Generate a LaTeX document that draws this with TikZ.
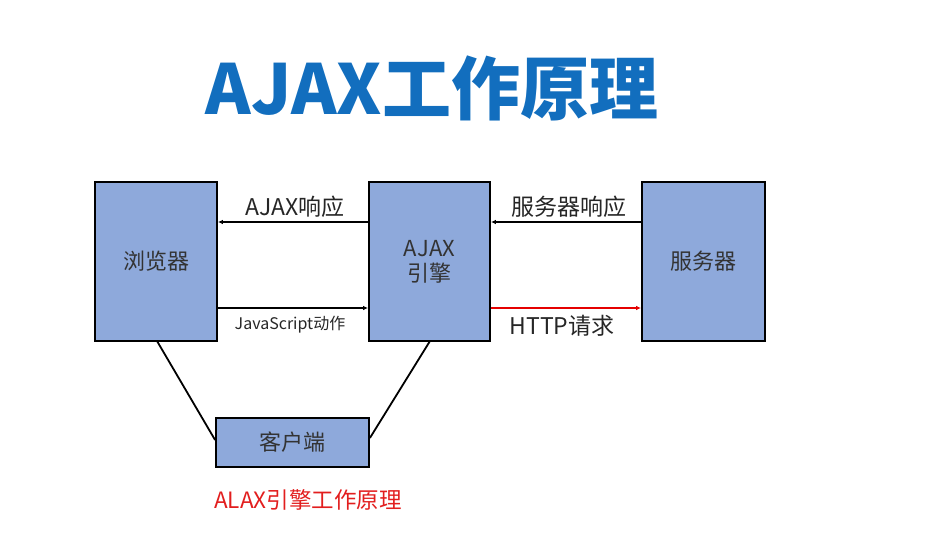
\documentclass[tikz,border=0pt]{standalone}
\usepackage{fontspec}
\setmainfont{Noto Sans CJK SC}
\usetikzlibrary{arrows.meta}
\definecolor{boxfill}{RGB}{142,169,219}
\definecolor{titleblue}{RGB}{18,110,190}
\definecolor{lblred}{RGB}{226,30,30}
\begin{document}
\begin{tikzpicture}[x=1pt,y=-1pt,
  box/.style={draw=black,line width=1.8pt,fill=boxfill,inner sep=0pt,font=\fontsize{22}{25}\selectfont,text=black!80,align=center},
  conn/.style={line width=1.8pt,-{Latex[length=5pt,width=4.5pt]}},
  lbl/.style={font=\fontsize{23}{25}\selectfont,text=black!85,inner sep=0pt}]
\useasboundingbox (0,0) rectangle (943,541);
\node[font=\fontsize{69}{72}\selectfont\bfseries,text=titleblue] (title) at (432,88) {AJAX工作原理};
\node[box,minimum width=122pt,minimum height=159pt] (browser) at (156,261.5) {浏览器};
\node[box,minimum width=121pt,minimum height=159pt] (engine) at (429.5,261.5) {AJAX\\引擎};
\node[box,minimum width=123pt,minimum height=159pt] (server) at (703.5,261.5) {服务器};
\node[box,minimum width=153pt,minimum height=49pt] (client) at (292.5,442.5) {客户端};
\coordinate (e1) at (engine.west |- 0,222);
\coordinate (b1) at (browser.east |- 0,222);
\coordinate (b2) at (browser.east |- 0,308);
\coordinate (e2) at (engine.west |- 0,308);
\coordinate (s1) at (server.west |- 0,222);
\coordinate (e3) at (engine.east |- 0,222);
\coordinate (e4) at (engine.east |- 0,308);
\coordinate (s2) at (server.west |- 0,308);
\draw[conn] (e1) -- (b1);
\draw[conn] (b2) -- (e2);
\draw[conn] (s1) -- (e3);
\draw[conn,draw=red!90!black] (e4) -- (s2);
\node[lbl] (l1) at (295,207) {AJAX响应};
\node[lbl,font=\fontsize{16}{18}\selectfont] (l2) at (290,325) {JavaScript动作};
\node[lbl] (l3) at (569,207) {服务器响应};
\node[lbl] (l4) at (562,326) {HTTP请求};
\draw[line width=1.8pt] (157,341) -- (client.west |- 0,440);
\draw[line width=1.8pt] (430,341) -- (client.east |- 0,438);
\node[font=\fontsize{22.5}{24}\selectfont,text=lblred] (cap) at (308,500) {ALAX引擎工作原理};
\end{tikzpicture}
\end{document}
